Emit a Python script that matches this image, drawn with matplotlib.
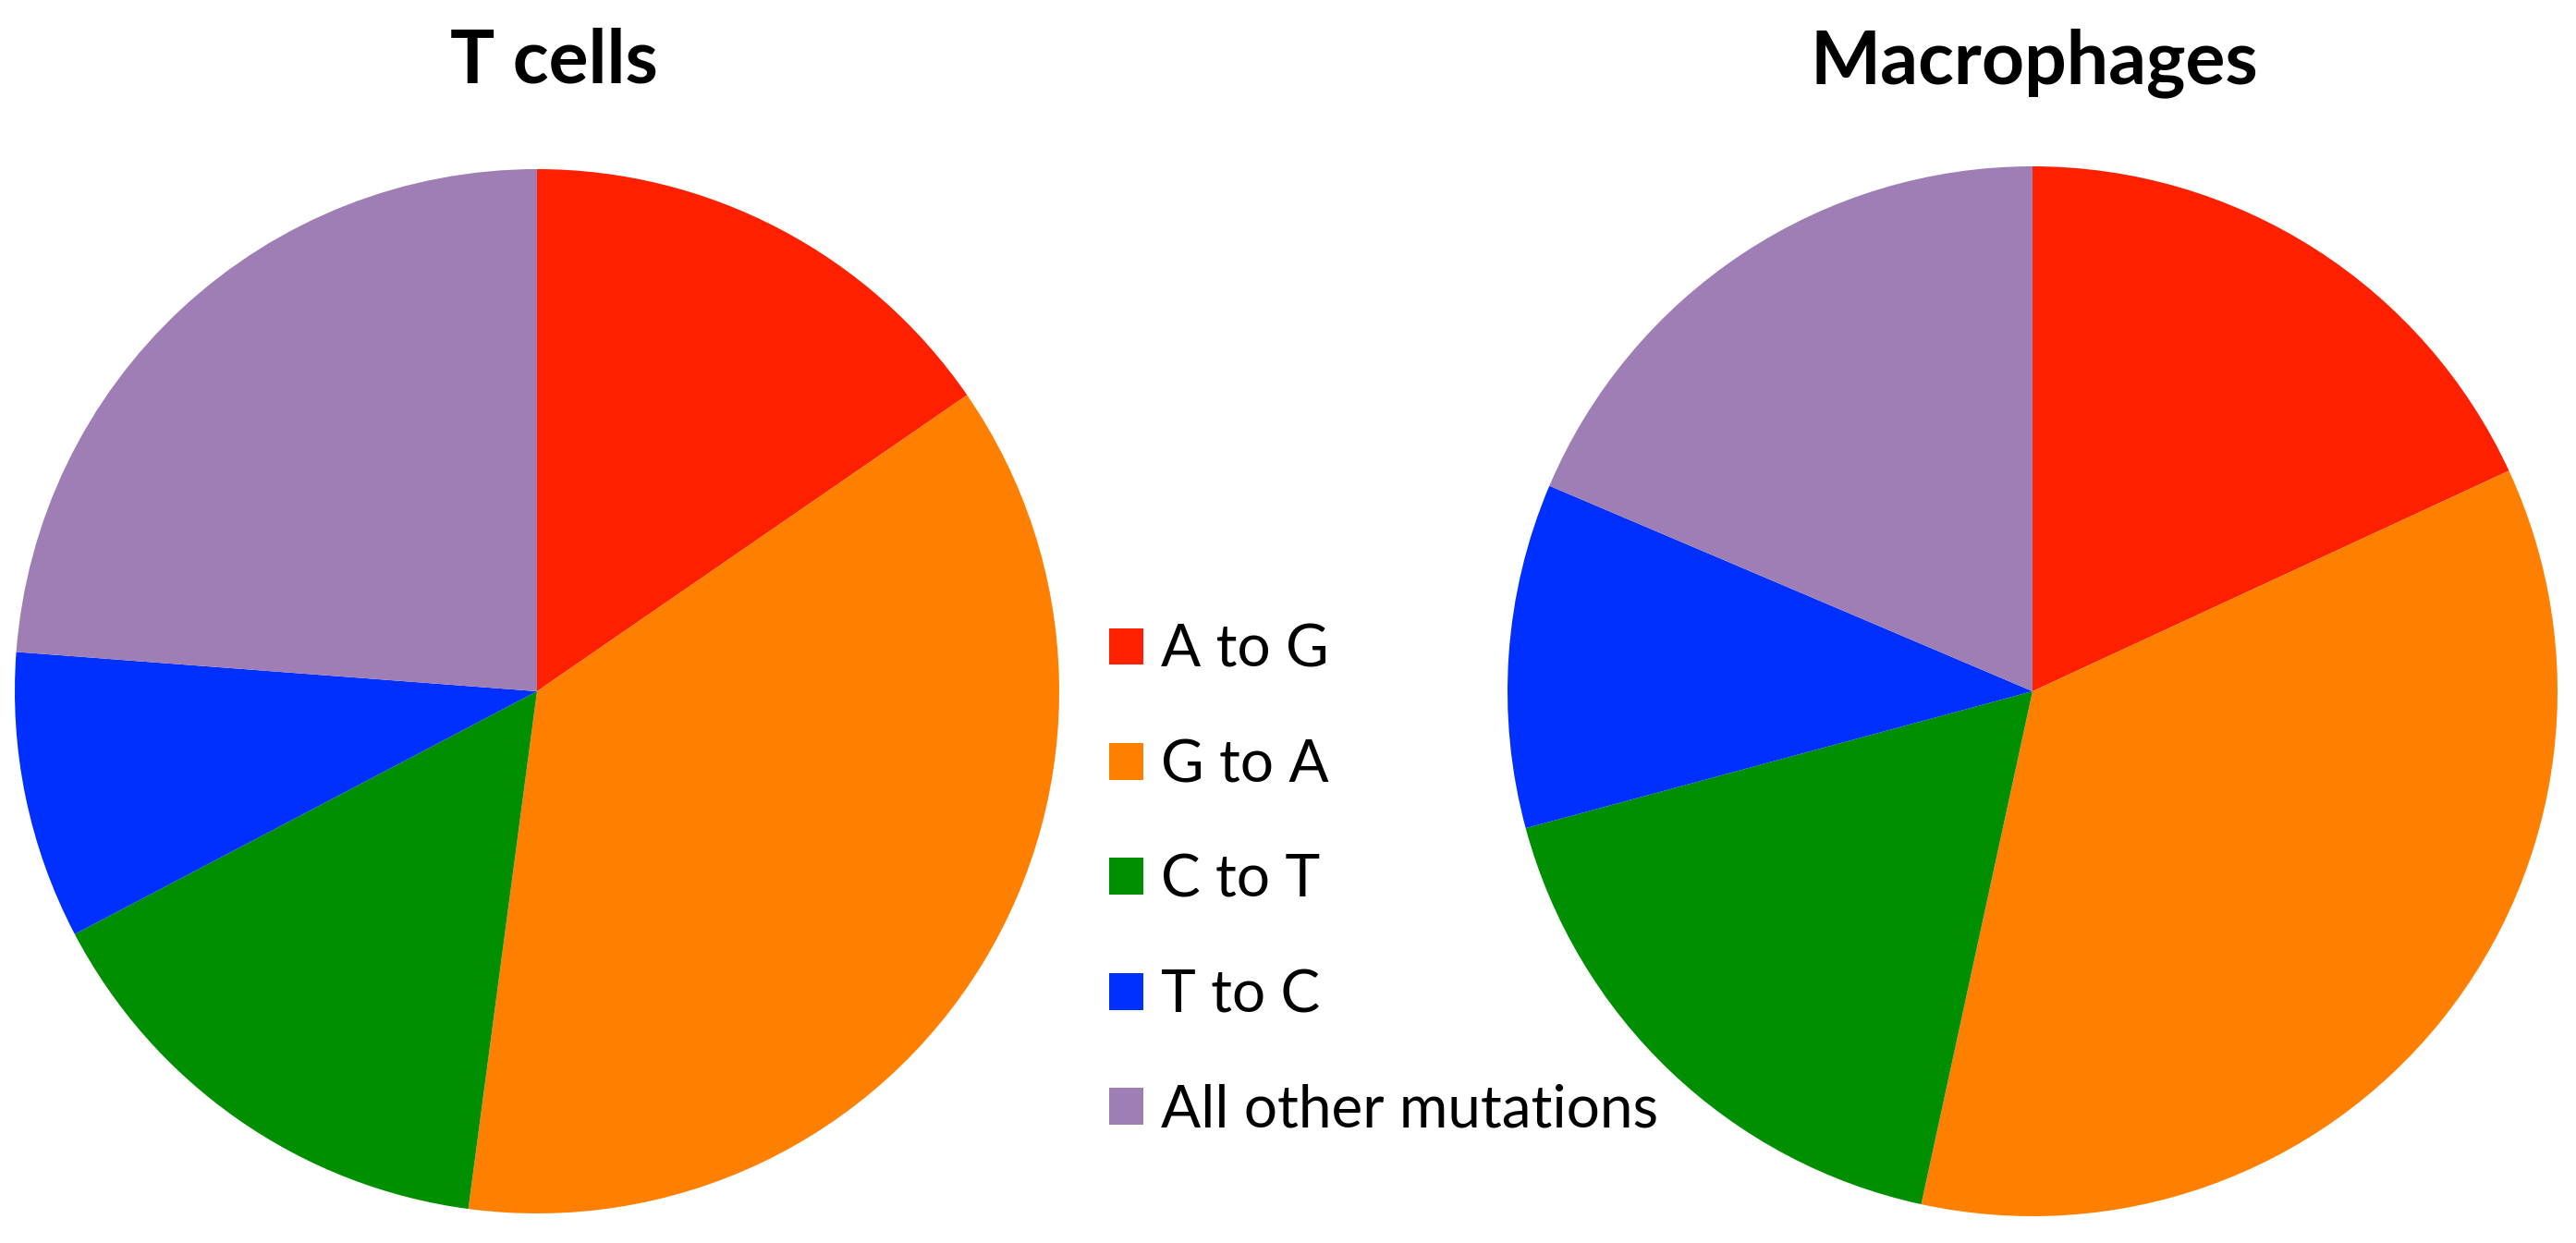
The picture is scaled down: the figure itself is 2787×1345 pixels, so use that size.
import matplotlib.pyplot as plt

# mutation categories and fractions (%)
labels = ["A to G", "G to A", "C to T", "T to C", "All other mutations"]
t_cells = [15.4, 36.7, 15.2, 8.9, 23.8]
macrophages = [18.1, 35.3, 17.4, 10.6, 18.6]
colors = ["#FF2000", "#FF8000", "#008F00", "#0030FF", "#9E7EB5"]

W, H = 2787, 1345
fig = plt.figure(figsize=(W / 100, H / 100), dpi=100)


def add_pie(cx, cy, r, values, title, title_x):
    # axes placed in pixel units, converted to figure fractions
    ax = fig.add_axes([(cx - r) / W, 1 - (cy + r) / H, 2 * r / W, 2 * r / H])
    wedges, _ = ax.pie(values, colors=colors, startangle=90, counterclock=False,
                       radius=1, wedgeprops=dict(linewidth=0))
    ax.set_xlim(-1, 1)
    ax.set_ylim(-1, 1)
    ax.set_aspect("equal")
    ax.axis("off")
    fig.text(title_x / W, 1 - 90 / H, title, ha="center", va="baseline",
             fontsize=58, fontweight="bold", family="Lato")
    return wedges


wedges = add_pie(581, 748, 565, t_cells, "T cells", 599)
add_pie(2199, 748, 568, macrophages, "Macrophages", 2201)

fig.legend(wedges, labels, loc="upper left", bbox_to_anchor=(1200 / W, 1 - 675 / H),
           frameon=False, prop=dict(family="Lato", size=46),
           handlelength=0.58, handleheight=0.58, handletextpad=0.3,
           labelspacing=1.04, borderpad=0, borderaxespad=0)

fig.savefig("out.png", dpi=100)
